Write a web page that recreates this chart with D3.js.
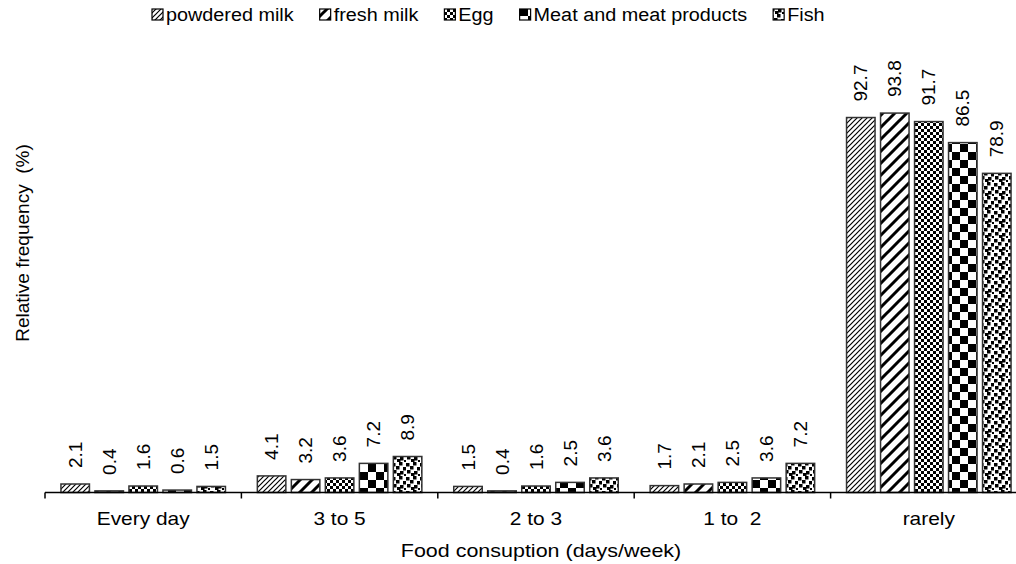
<!DOCTYPE html>
<html>
<head>
<meta charset="utf-8">
<script src="https://cdn.jsdelivr.net/npm/d3@7/dist/d3.min.js"></script>
<style>
  body { margin: 0; background: #fff; }
  svg { display: block; font-family: "Liberation Sans", Arial, sans-serif; }
</style>
</head>
<body>
<div id="chart"></div>
<script>
// categories and series
var categories = ["Every day", "3 to 5", "2 to 3", "1 to  2", "rarely"];
var seriesNames = ["powdered milk", "fresh milk", "Egg", "Meat and meat products", "Fish"];
var powderedMilk = [2.1, 4.1, 1.5, 1.7, 92.7];
var freshMilk = [0.4, 3.2, 0.4, 2.1, 93.8];
var egg = [1.6, 3.6, 1.6, 2.5, 91.7];
var meat = [0.6, 7.2, 2.5, 3.6, 86.5];
var fish = [1.5, 8.9, 3.6, 7.2, 78.9];
var seriesValues = [powderedMilk, freshMilk, egg, meat, fish];
var patternIds = ["p-fine", "p-wide", "p-smallcheck", "p-bigcheck", "p-confetti"];

(function() {
	var W = 1016, H = 564;
	var margin = { top: 88, left: 45, bottom: 72 };
	var plotBottom = H - margin.bottom + 0.5;

	var svg = d3.select("#chart")
				.append("svg")
				.attr("width", W)
				.attr("height", H);

	// patterns
	var defs = svg.append("defs");

	var p1 = defs.append("pattern").attr("id", "p-fine")
		.attr("patternUnits", "userSpaceOnUse").attr("width", 5).attr("height", 5);
	p1.append("rect").attr("width", 5).attr("height", 5).attr("fill", "#fff");
	p1.append("path").attr("d", "M0,5 L5,0 M-1,1 L1,-1 M4,6 L6,4")
		.attr("stroke", "#000").attr("stroke-width", 1.2);

	var p2 = defs.append("pattern").attr("id", "p-wide")
		.attr("patternUnits", "userSpaceOnUse").attr("width", 12).attr("height", 12);
	p2.append("rect").attr("width", 12).attr("height", 12).attr("fill", "#fff");
	p2.append("path").attr("d", "M0,12 L12,0 M-3,3 L3,-3 M9,15 L15,9")
		.attr("stroke", "#000").attr("stroke-width", 3);

	var p3 = defs.append("pattern").attr("id", "p-smallcheck")
		.attr("patternUnits", "userSpaceOnUse").attr("width", 6).attr("height", 6);
	p3.append("rect").attr("width", 6).attr("height", 6).attr("fill", "#fff");
	p3.append("rect").attr("width", 3).attr("height", 3).attr("fill", "#000");
	p3.append("rect").attr("x", 3).attr("y", 3).attr("width", 3).attr("height", 3).attr("fill", "#000");

	var p4 = defs.append("pattern").attr("id", "p-bigcheck")
		.attr("patternUnits", "userSpaceOnUse").attr("width", 16).attr("height", 16);
	p4.append("rect").attr("width", 16).attr("height", 16).attr("fill", "#fff");
	p4.append("rect").attr("width", 8).attr("height", 8).attr("fill", "#000");
	p4.append("rect").attr("x", 8).attr("y", 8).attr("width", 8).attr("height", 8).attr("fill", "#000");

	var p5 = defs.append("pattern").attr("id", "p-confetti")
		.attr("patternUnits", "userSpaceOnUse").attr("width", 14).attr("height", 14);
	p5.append("rect").attr("width", 14).attr("height", 14).attr("fill", "#fff");
	[[0,1],[7,0],[4,4],[11,5],[1,8],[8,9],[5,11],[12,12]].forEach(function(d) {
		p5.append("rect").attr("x", d[0]).attr("y", d[1])
			.attr("width", 3.5).attr("height", 3.5).attr("fill", "#000");
	});

	// scales
	var xScale = d3.scaleBand().domain(categories).range([margin.left, margin.left + 5 * 196.4]);
	var inner = d3.scaleBand().domain(d3.range(seriesNames.length))
		.range([0, xScale.bandwidth()]).paddingInner(0.1176).paddingOuter(0.447);
	var yScale = d3.scaleLinear().domain([0, 100]).range([plotBottom, margin.top]);

	function stretch(sel, k) {
		sel.each(function() {
			var len = this.getComputedTextLength();
			d3.select(this).attr("textLength", len * k).attr("lengthAdjust", "spacingAndGlyphs");
		});
	}

	// bars
	var groups = svg.selectAll("g.series")
		.data(seriesValues)
		.enter()
		.append("g")
		.attr("class", "series");

	groups.selectAll("rect")
		.data(function(vals, i) {
			return vals.map(function(v, j) { return { s: i, cat: categories[j], v: v }; });
		})
		.enter()
		.append("rect")
		.attr("x", function(d) { return xScale(d.cat) + inner(d.s) + 0.75; })
		.attr("y", function(d) { return yScale(d.v); })
		.attr("width", inner.bandwidth() - 1.5)
		.attr("height", function(d) { return plotBottom - yScale(d.v); })
		.attr("fill", function(d) { return "url(#" + patternIds[d.s] + ")"; })
		.attr("stroke", "#333")
		.attr("stroke-width", 1.5);

	// value labels
	groups.selectAll("text")
		.data(function(vals, i) {
			return vals.map(function(v, j) { return { s: i, cat: categories[j], v: v }; });
		})
		.enter()
		.append("text")
		.attr("transform", function(d) {
			var cx = xScale(d.cat) + inner(d.s) + inner.bandwidth() / 2;
			return "translate(" + cx + "," + (yScale(d.v) - 16) + ") rotate(-90)";
		})
		.attr("dy", "0.35em")
		.attr("font-size", 19)
		.attr("fill", "#000")
		.text(function(d) { return d.v.toFixed(1); });

	// x axis
	var axis = svg.append("g");
	axis.append("line")
		.attr("x1", xScale.range()[0]).attr("x2", xScale.range()[1])
		.attr("y1", plotBottom).attr("y2", plotBottom)
		.attr("stroke", "#000").attr("stroke-width", 1.5);
	var bounds = categories.map(function(c) { return xScale(c); }).concat([xScale.range()[1]]);
	axis.selectAll("line.tick")
		.data(bounds)
		.enter()
		.append("line")
		.attr("class", "tick")
		.attr("x1", function(d) { return d; }).attr("x2", function(d) { return d; })
		.attr("y1", plotBottom).attr("y2", plotBottom + 6)
		.attr("stroke", "#000").attr("stroke-width", 1.5);
	axis.selectAll("text")
		.data(categories)
		.enter()
		.append("text")
		.attr("x", function(d) { return xScale(d) + xScale.bandwidth() / 2; })
		.attr("y", 524.5)
		.attr("text-anchor", "middle")
		.attr("font-size", 19)
		.style("white-space", "pre")
		.text(function(d) { return d; })
		.call(stretch, 1.1);

	// axis titles
	svg.append("text")
		.attr("x", 541).attr("y", 557)
		.attr("text-anchor", "middle")
		.attr("font-size", 19)
		.text("Food consuption (days/week)")
		.call(stretch, 1.13);

	svg.append("text")
		.attr("transform", "translate(29,243) rotate(-90)")
		.attr("text-anchor", "middle")
		.attr("font-size", 19)
		.style("white-space", "pre")
		.text("Relative frequency  (%)");

	// legend
	var legend = svg.append("g");
	var lx = 152;
	seriesNames.forEach(function(name, i) {
		legend.append("rect")
			.attr("x", lx).attr("y", 9).attr("width", 11).attr("height", 11)
			.attr("fill", "url(#" + patternIds[i] + ")")
			.attr("stroke", "#000").attr("stroke-width", 1.2);
		var t = legend.append("text")
			.attr("x", lx + 14).attr("y", 20.5)
			.attr("font-size", 18)
			.text(name);
		var len = t.node().getComputedTextLength();
		t.call(stretch, 1.1);
		lx += 14 + len * 1.1 + 26;
	});
})();
</script>
</body>
</html>
